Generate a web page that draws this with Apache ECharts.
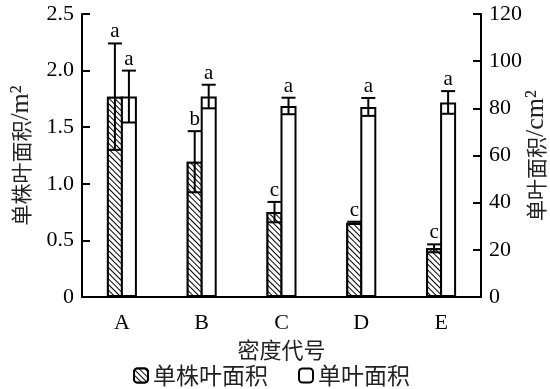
<!DOCTYPE html>
<html><head><meta charset="utf-8">
<script src="https://cdn.jsdelivr.net/npm/echarts@6/dist/echarts.min.js"></script>
<style>html,body{margin:0;padding:0;background:#fff}#c{width:550px;height:389px}</style>
</head><body><div id="c"></div>
<script>
const categories = ['A','B','C','D','E'];
const plantLeafArea = [1.77, 1.195, 0.75, 0.655, 0.43];
const plantLeafErr = [0.47, 0.27, 0.09, 0.01, 0.035];
const plantLeafLetters = ['a','b','c','c','c'];
const singleLeafArea = [85, 85, 81, 80.6, 82.5];
const singleLeafErr = [11, 5, 3.5, 3.8, 4.8];
const singleLeafLetters = ['a','a','a','a','a'];
const leftTicks = [0, 0.5, 1.0, 1.5, 2.0, 2.5];
const rightTicks = [0, 20, 40, 60, 80, 100, 120];

const SERIF = '"Liberation Serif","Times New Roman",serif';
const CJK = '"Noto Sans CJK SC",sans-serif';

function errSeries(vals, errs, letters, yIdx, offset) {
  return {
    type: 'custom', yAxisIndex: yIdx, silent: true, z: 10,
    data: vals.map((v, i) => [i, v, errs[i]]),
    renderItem(params, api) {
      const i = api.value(0), v = api.value(1), e = api.value(2);
      const top = api.coord([i, v + e]);
      const bot = api.coord([i, v - e]);
      const x = top[0] + offset;
      const half = 7;
      const st = {stroke: '#000', lineWidth: 2};
      return {type: 'group', children: [
        {type: 'line', shape: {x1: x, y1: top[1], x2: x, y2: bot[1]}, style: st},
        {type: 'line', shape: {x1: x - half, y1: top[1], x2: x + half, y2: top[1]}, style: st},
        {type: 'line', shape: {x1: x - half, y1: bot[1], x2: x + half, y2: bot[1]}, style: st},
        {type: 'text', x: x, y: top[1] - 1, style: {text: letters[params.dataIndex], textAlign: 'center', textVerticalAlign: 'bottom', font: '21px ' + SERIF, fill: '#000'}}
      ]};
    }
  };
}

const nameRich = {
  c: {fontFamily: CJK, fontSize: 21, color: '#222'},
  s: {fontFamily: SERIF, fontSize: 26, color: '#222'}
};

const chart = echarts.init(document.getElementById('c'));
chart.setOption({
  animation: false,
  backgroundColor: '#fff',
  grid: {left: 82, right: 69, top: 14, bottom: 92, outerBoundsMode: 'none', containLabel: false},
  legend: {
    left: 128, top: 359, itemWidth: 14, itemHeight: 14, itemGap: 30,
    textStyle: {fontFamily: CJK, fontSize: 23, color: '#222'},
    data: ['单株叶面积', '单叶面积']
  },
  xAxis: {
    type: 'category', data: categories,
    name: '密度代号', nameLocation: 'middle', nameGap: 38,
    nameTextStyle: {fontFamily: CJK, fontSize: 22, color: '#222'},
    axisLine: {lineStyle: {color: '#000', width: 2}},
    axisTick: {show: false},
    axisLabel: {fontFamily: SERIF, fontSize: 22, color: '#000', margin: 15}
  },
  yAxis: [{
    type: 'value', min: 0, max: 2.5, interval: 0.5, position: 'left',
    name: '{c|单株叶面积}{s|/m²}', nameLocation: 'middle', nameGap: 48, nameRotate: 90,
    nameMoveOverlap: false,
    nameTextStyle: {rich: nameRich},
    axisLine: {show: true, lineStyle: {color: '#000', width: 2}},
    axisTick: {show: true, inside: true, length: 8, lineStyle: {color: '#000', width: 2}},
    splitLine: {show: false},
    axisLabel: {fontFamily: SERIF, fontSize: 22, color: '#000', margin: 8,
      formatter: v => v === 0 ? '0' : v.toFixed(1)}
  }, {
    type: 'value', min: 0, max: 120, interval: 20, position: 'right',
    name: '{c|单叶面积}{s|/cm²}', nameLocation: 'middle', nameGap: 42, nameRotate: 90,
    nameMoveOverlap: false,
    nameTextStyle: {rich: nameRich},
    axisLine: {show: true, lineStyle: {color: '#000', width: 2}},
    axisTick: {show: true, inside: true, length: 8, lineStyle: {color: '#000', width: 2}},
    splitLine: {show: false},
    axisLabel: {fontFamily: SERIF, fontSize: 22, color: '#000', margin: 8}
  }],
  series: [{
    name: '单株叶面积', type: 'bar', yAxisIndex: 0, data: plantLeafArea,
    barWidth: 16, barGap: '-12.5%',
    itemStyle: {color: '#fff', borderColor: '#000', borderWidth: 2,
      decal: {symbol: 'rect', symbolSize: 1, color: '#000', backgroundColor: '#fff',
        dashArrayX: [1, 0], dashArrayY: [1, 3], rotation: Math.PI / 4}}
  }, {
    name: '单叶面积', type: 'bar', yAxisIndex: 1, data: singleLeafArea,
    barWidth: 16, barGap: '-12.5%',
    itemStyle: {color: '#fff', borderColor: '#000', borderWidth: 2}
  },
  errSeries(plantLeafArea, plantLeafErr, plantLeafLetters, 0, -7),
  errSeries(singleLeafArea, singleLeafErr, singleLeafLetters, 1, 7)
  ]
});
</script></body></html>
